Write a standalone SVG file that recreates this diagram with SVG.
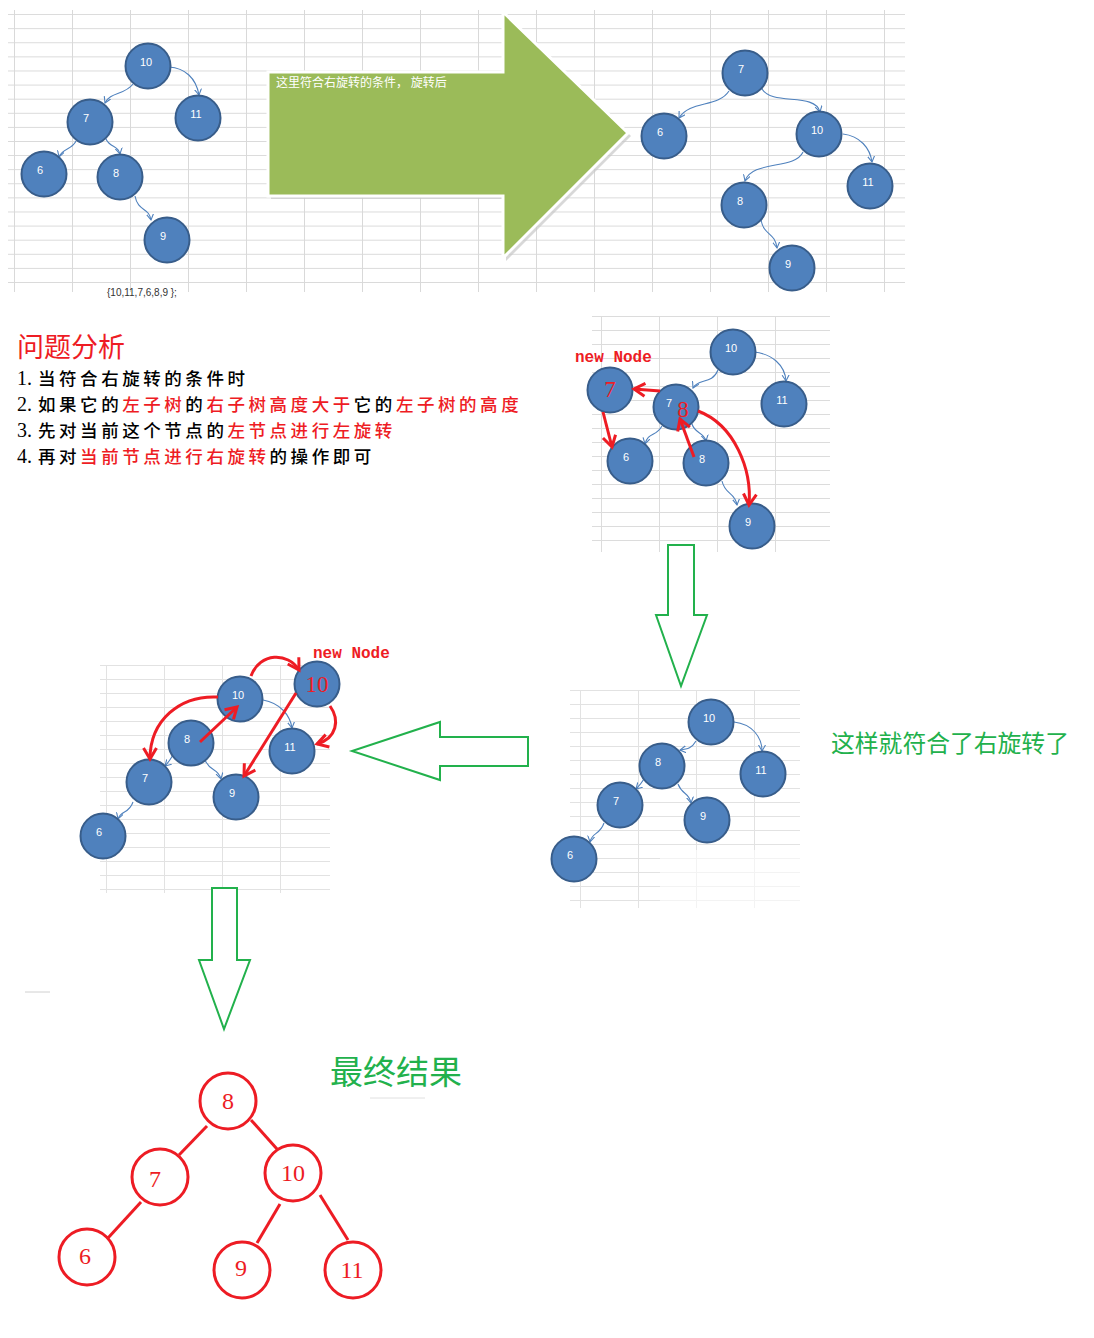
<svg xmlns="http://www.w3.org/2000/svg" width="1094" height="1338" viewBox="0 0 1094 1338">
<style>
.bn{fill:#4f81bd;stroke:#385d8a;stroke-width:2}
.bl{fill:#fff;font-family:"Liberation Sans",Arial,sans-serif;font-size:11px;text-anchor:middle}
.bc{fill:none;stroke:#4f81bd;stroke-width:1.1;marker-end:url(#ba)}
.rc{fill:none;stroke:#ee1c24;stroke-width:3;marker-end:url(#ra)}
.big{fill:#ee1c24;font-family:"Liberation Serif","Times New Roman",serif;font-size:23px;text-anchor:middle}
.nn{fill:#ee1c24;font-family:"Liberation Mono","Courier New",monospace;font-weight:bold;font-size:16px}
.cjk{font-family:"Noto Sans CJK SC","Noto Sans CJK JP",sans-serif}
.pt{font-family:"Noto Sans CJK SC","Noto Sans CJK JP",sans-serif;font-size:17.5px;font-weight:500;letter-spacing:3.55px;fill:#000}
.pn{font-family:"Liberation Serif","Times New Roman",serif;font-size:20px;fill:#000}
.r{fill:#ee1c24}
.fn{fill:#fff;stroke:#ed1c24;stroke-width:3}
.fl{fill:#ed1c24;font-family:"Liberation Serif","Times New Roman",serif;font-size:24px;text-anchor:middle}
.fe{stroke:#ed1c24;stroke-width:3;fill:none}
.ga{fill:#fff;stroke:#22b14c;stroke-width:2}
</style>
<defs>
<pattern id="g1" x="14" y="0" width="58" height="14.1" patternUnits="userSpaceOnUse"><path d="M0 0.5H58M0.5 0V14.1" stroke="#d9d9d9" stroke-width="1" fill="none"/></pattern>
<pattern id="g2" x="601" y="316" width="58" height="14" patternUnits="userSpaceOnUse"><path d="M0 0.5H58M0.5 0V14" stroke="#dcdcdc" stroke-width="1" fill="none"/></pattern>
<pattern id="g3" x="580" y="690" width="58" height="14" patternUnits="userSpaceOnUse"><path d="M0 0.5H58M0.5 0V14" stroke="#e2e2e2" stroke-width="1" fill="none"/></pattern>
<pattern id="g4" x="106" y="665" width="58" height="14" patternUnits="userSpaceOnUse"><path d="M0 0.5H58M0.5 0V14" stroke="#e2e2e2" stroke-width="1" fill="none"/></pattern>
<marker id="ba" markerUnits="userSpaceOnUse" markerWidth="10" markerHeight="10" refX="6" refY="4" orient="auto"><path d="M0,0.5 L6,4 L0,7.5" fill="none" stroke="#4f81bd" stroke-width="1.1"/></marker>
<marker id="ra" markerUnits="userSpaceOnUse" markerWidth="20" markerHeight="20" refX="13" refY="8" orient="auto"><path d="M2,1.5 L13,8 L2,14.5" fill="none" stroke="#ee1c24" stroke-width="3"/></marker>
</defs>
<rect width="1094" height="1338" fill="#fff"/>

<g id="grid">
<rect x="8" y="10" width="897" height="282" fill="url(#g1)"/>
<rect x="592" y="316" width="238" height="236" fill="url(#g2)"/>
<rect x="570" y="690" width="230" height="218" fill="url(#g3)"/>
<rect x="100" y="665" width="230" height="228" fill="url(#g4)"/>
<rect x="660" y="850" width="140" height="60" fill="#fff" opacity="0.6"/>
<line x1="25" y1="992" x2="50" y2="992" stroke="#d0d0d0"/>
<line x1="370" y1="1098" x2="425" y2="1098" stroke="#e0e0e0"/>
</g>

<g id="bigArrow">
<polygon points="271,75 506,75 506,15 631,136 506,261 506,199 271,199" fill="#c8c8c8" opacity="0.7"/>
<polygon points="268,72 503,72 503,12 628,133 503,258 503,196 268,196" fill="#9bbb59" stroke="#fff" stroke-width="3"/>
<text x="276" y="87" class="cjk" font-size="12" fill="#fff">这里符合右旋转的条件， 旋转后</text>
</g>

<g id="connectors">
<path class="bc" d="M169,67 C185,68 196,78 199,95"/>
<path class="bc" d="M133,84 C125,95 110,92 105,103"/>
<path class="bc" d="M76,141 C72,150 62,148 59,157"/>
<path class="bc" d="M106,139 C110,148 118,145 120,154"/>
<path class="bc" d="M135,196 C138,212 149,207 151,220"/>
<path class="bc" d="M729,91 C718,108 690,100 679,118"/>
<path class="bc" d="M762,89 C772,106 815,92 820,112"/>
<path class="bc" d="M843,134 C860,136 870,148 872,162"/>
<path class="bc" d="M803,152 C795,170 752,160 745,181"/>
<path class="bc" d="M761,220 C764,236 775,232 777,248"/>
<path class="bc" d="M754,352 C772,354 785,365 786,381"/>
<path class="bc" d="M718,370 C712,385 698,378 693,388"/>
<path class="bc" d="M662,426 C656,437 648,432 645,444"/>
<path class="bc" d="M692,424 C695,434 704,432 706,441"/>
<path class="bc" d="M722,481 C725,495 735,492 737,505"/>
<path class="bc" d="M734,722 C752,724 762,737 762,751"/>
<path class="bc" d="M696,741 C692,748 688,749 680,750" marker-end="none"/>
<path class="bc" d="M644,779 C641,784 639,786 636,789"/>
<path class="bc" d="M678,784 C682,795 689,792 691,803"/>
<path class="bc" d="M604,823 C600,835 592,832 590,842"/>
<path class="bc" d="M263,700 C280,703 290,715 292,728"/>
<path class="bc" d="M173,755 C170,760 168,763 165,766"/>
<path class="bc" d="M205,760 C210,772 218,768 221,779"/>
<path class="bc" d="M133,802 C129,814 121,810 118,819"/>
</g>

<g id="tree1">
<g id="t1n10"><circle class="bn" cx="148" cy="66" r="22.5"/><text class="bl" x="146" y="66">10</text></g>
<g id="t1n11"><circle class="bn" cx="198" cy="118" r="22.5"/><text class="bl" x="196" y="118">11</text></g>
<g id="t1n7"><circle class="bn" cx="90" cy="122" r="22.5"/><text class="bl" x="86" y="122">7</text></g>
<g id="t1n6"><circle class="bn" cx="44" cy="174" r="22.5"/><text class="bl" x="40" y="174">6</text></g>
<g id="t1n8"><circle class="bn" cx="120" cy="177" r="22.5"/><text class="bl" x="116" y="177">8</text></g>
<g id="t1n9"><circle class="bn" cx="167" cy="240" r="22.5"/><text class="bl" x="163" y="240">9</text></g>
<text x="107" y="296" font-family="Liberation Sans,Arial,sans-serif" font-size="10" fill="#333">{10,11,7,6,8,9 };</text>
</g>

<g id="tree2">
<g id="t2n7"><circle class="bn" cx="745" cy="73" r="22.5"/><text class="bl" x="741" y="73">7</text></g>
<g id="t2n6"><circle class="bn" cx="664" cy="136" r="22.5"/><text class="bl" x="660" y="136">6</text></g>
<g id="t2n10"><circle class="bn" cx="819" cy="134" r="22.5"/><text class="bl" x="817" y="134">10</text></g>
<g id="t2n11"><circle class="bn" cx="870" cy="186" r="22.5"/><text class="bl" x="868" y="186">11</text></g>
<g id="t2n8"><circle class="bn" cx="744" cy="205" r="22.5"/><text class="bl" x="740" y="205">8</text></g>
<g id="t2n9"><circle class="bn" cx="792" cy="268" r="22.5"/><text class="bl" x="788" y="268">9</text></g>
</g>

<g id="analysis">
<text x="17" y="357" class="cjk" font-size="27" fill="#ee1c24">问题分析</text>
<text class="pn" x="17" y="385">1.</text>
<text class="pt" x="38" y="385">当符合右旋转的条件时</text>
<text class="pn" x="17" y="411">2.</text>
<text class="pt" x="38" y="411">如果它的<tspan class="r">左子树</tspan>的<tspan class="r">右子树高度大于</tspan>它的<tspan class="r">左子树的高度</tspan></text>
<text class="pn" x="17" y="437">3.</text>
<text class="pt" x="38" y="437">先对当前这个节点的<tspan class="r">左节点进行左旋转</tspan></text>
<text class="pn" x="17" y="463">4.</text>
<text class="pt" x="38" y="463">再对<tspan class="r">当前节点进行右旋转</tspan>的操作即可</text>
</g>

<g id="tree3">
<text class="nn" x="575" y="362">new Node</text>
<g id="t3n10"><circle class="bn" cx="733" cy="352" r="22.5"/><text class="bl" x="731" y="352">10</text></g>
<g id="t3n11"><circle class="bn" cx="784" cy="404" r="22.5"/><text class="bl" x="782" y="404">11</text></g>
<g id="t3n78"><circle class="bn" cx="676" cy="407" r="22.5"/><text class="bl" x="669" y="407">7</text><text class="big" x="683" y="417">8</text></g>
<g id="t3new7"><circle class="bn" cx="610" cy="390" r="22.5"/><text class="big" x="610" y="397">7</text></g>
<g id="t3n6"><circle class="bn" cx="630" cy="461" r="22.5"/><text class="bl" x="626" y="461">6</text></g>
<g id="t3n8"><circle class="bn" cx="706" cy="463" r="22.5"/><text class="bl" x="702" y="463">8</text></g>
<g id="t3n9"><circle class="bn" cx="752" cy="526" r="22.5"/><text class="bl" x="748" y="526">9</text></g>
<g id="t3red">
<line class="rc" x1="660" y1="391" x2="634" y2="389"/>
<line class="rc" x1="603" y1="412" x2="612" y2="447"/>
<line class="rc" x1="694" y1="457" x2="680" y2="419"/>
<path class="rc" d="M698,411 C735,425 752,470 749,505"/>
</g>
</g>

<g id="downArrow1">
<polygon class="ga" points="668,545 694,545 694,615 707,615 681,686 656,615 668,615"/>
</g>

<g id="tree4">
<g id="t4n10"><circle class="bn" cx="711" cy="722" r="22.5"/><text class="bl" x="709" y="722">10</text></g>
<g id="t4n8"><circle class="bn" cx="662" cy="766" r="22.5"/><text class="bl" x="658" y="766">8</text></g>
<g id="t4n11"><circle class="bn" cx="763" cy="774" r="22.5"/><text class="bl" x="761" y="774">11</text></g>
<g id="t4n7"><circle class="bn" cx="620" cy="805" r="22.5"/><text class="bl" x="616" y="805">7</text></g>
<g id="t4n9"><circle class="bn" cx="707" cy="820" r="22.5"/><text class="bl" x="703" y="820">9</text></g>
<g id="t4n6"><circle class="bn" cx="574" cy="859" r="22.5"/><text class="bl" x="570" y="859">6</text></g>
<text x="831" y="752" class="cjk" font-size="23.8" fill="#22b14c">这样就符合了右旋转了</text>
</g>

<g id="leftArrow">
<polygon class="ga" points="528,737 528,766 440,766 440,780 352,751 440,722 440,737"/>
</g>

<g id="tree5">
<text class="nn" x="313" y="658">new Node</text>
<g id="t5n10"><circle class="bn" cx="240" cy="699" r="22.5"/><text class="bl" x="238" y="699">10</text></g>
<g id="t5new10"><circle class="bn" cx="317" cy="684" r="22.5"/><text class="big" x="317" y="692">10</text></g>
<g id="t5n8"><circle class="bn" cx="191" cy="743" r="22.5"/><text class="bl" x="187" y="743">8</text></g>
<g id="t5n11"><circle class="bn" cx="292" cy="751" r="22.5"/><text class="bl" x="290" y="751">11</text></g>
<g id="t5n7"><circle class="bn" cx="149" cy="782" r="22.5"/><text class="bl" x="145" y="782">7</text></g>
<g id="t5n9"><circle class="bn" cx="236" cy="797" r="22.5"/><text class="bl" x="232" y="797">9</text></g>
<g id="t5n6"><circle class="bn" cx="103" cy="836" r="22.5"/><text class="bl" x="99" y="836">6</text></g>
<g id="t5red">
<path class="rc" d="M251,676 C260,652 288,652 299,670"/>
<path class="rc" d="M218,697 C180,695 150,720 150,759"/>
<line class="rc" x1="200" y1="742" x2="237" y2="707"/>
<line class="rc" x1="296" y1="693" x2="244" y2="776"/>
<path class="rc" d="M330,706 C340,720 337,738 317,744"/>
</g>
</g>

<g id="downArrow2">
<polygon class="ga" points="212,888 237,888 237,960 250,960 224,1029 199,960 212,960"/>
</g>

<g id="final">
<text x="330" y="1084" class="cjk" font-size="33" fill="#22b14c">最终结果</text>
<g id="edgesFinal">
<line class="fe" x1="207" y1="1126" x2="179" y2="1155"/>
<line class="fe" x1="251" y1="1120" x2="277" y2="1149"/>
<line class="fe" x1="141" y1="1202" x2="108" y2="1238"/>
<line class="fe" x1="280" y1="1204" x2="257" y2="1243"/>
<line class="fe" x1="320" y1="1195" x2="348" y2="1240"/>
</g>
<g id="f8"><circle class="fn" cx="228" cy="1101" r="28"/><text class="fl" x="228" y="1109">8</text></g>
<g id="f7"><circle class="fn" cx="160" cy="1177" r="28"/><text class="fl" x="155" y="1187">7</text></g>
<g id="f10"><circle class="fn" cx="293" cy="1173" r="28"/><text class="fl" x="293" y="1181">10</text></g>
<g id="f6"><circle class="fn" cx="87" cy="1257" r="28"/><text class="fl" x="85" y="1264">6</text></g>
<g id="f9"><circle class="fn" cx="242" cy="1270" r="28"/><text class="fl" x="241" y="1276">9</text></g>
<g id="f11"><circle class="fn" cx="353" cy="1270" r="28"/><text class="fl" x="352" y="1278">11</text></g>
</g>
</svg>
